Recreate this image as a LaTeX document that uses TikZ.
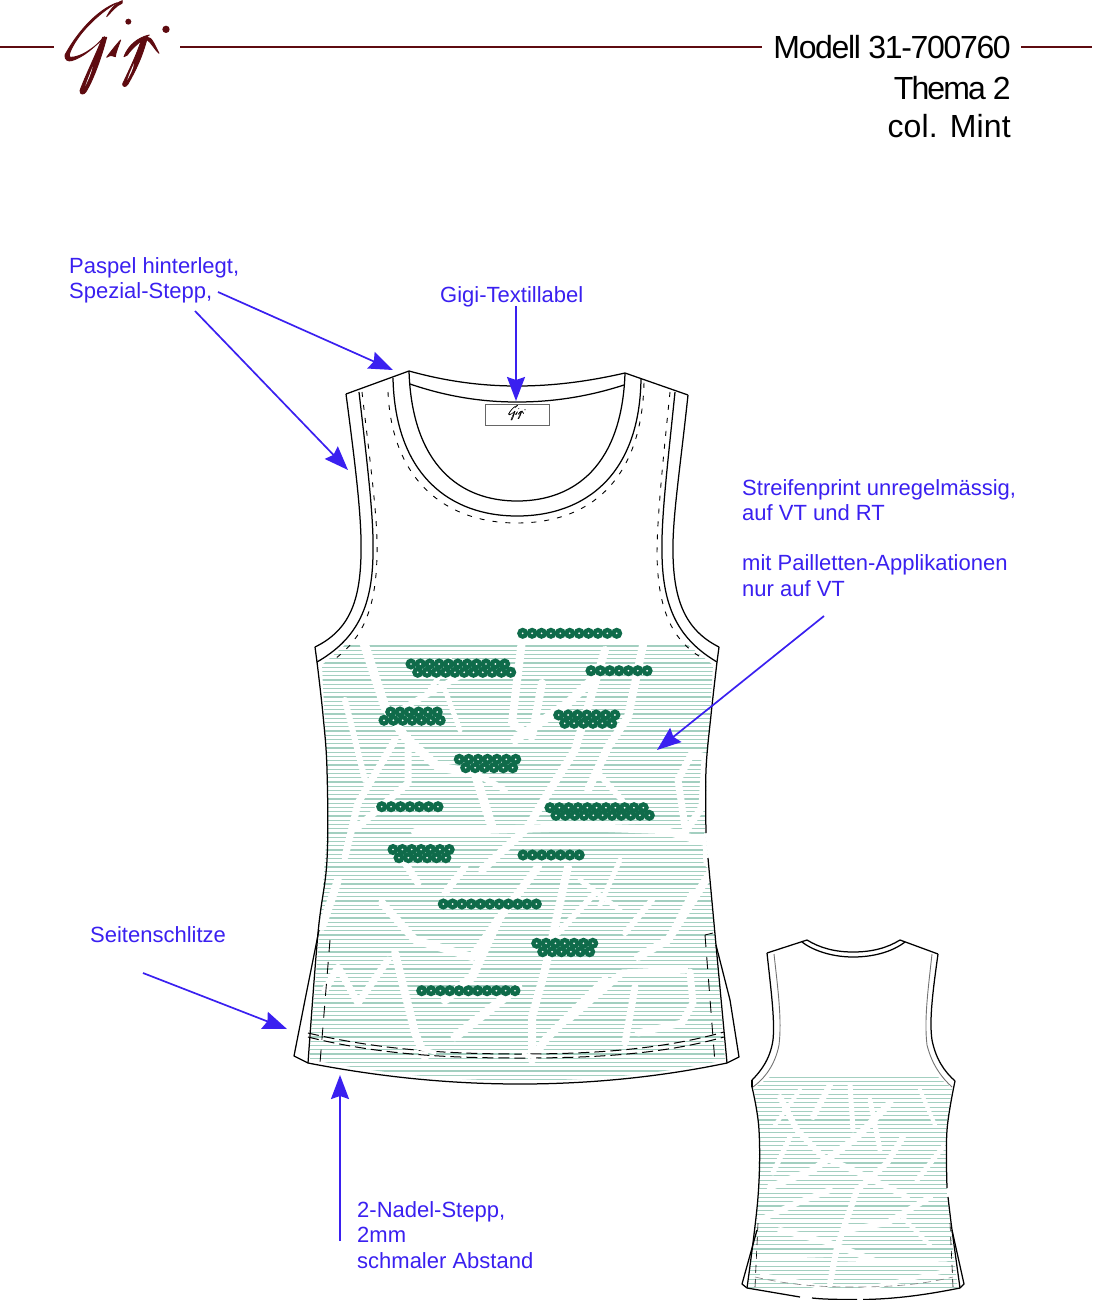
\documentclass[tikz,border=0pt]{standalone}
\usepackage{fontspec}
\usetikzlibrary{arrows.meta}
\setmainfont{Liberation Sans}
\newfontfamily\headfonta[LetterSpace=-4.2]{Liberation Sans}
\newfontfamily\headfontb[LetterSpace=-5.8]{Liberation Sans}
\newfontfamily\headfontc[LetterSpace=0.5]{Liberation Sans}
\definecolor{bluepen}{HTML}{3A20F0}
\definecolor{wine}{HTML}{5E0B10}
\definecolor{stripe}{HTML}{A3CFC0}
\definecolor{sequin}{HTML}{0F6B4A}
\tikzset{
  outline/.style={draw=black,line width=1.25pt,line join=round},
  thinline/.style={draw=black!55,line width=0.9pt},
  stitch/.style={draw=black,line width=0.9pt,dash pattern=on 5pt off 8pt},
  hemstitch/.style={draw=black,line width=1pt,dash pattern=on 11pt off 5pt},
  stripeline/.style={draw=stripe,line width=1.15pt},
  gap/.style={draw=white,line width=#1,line join=round,line cap=round},
  gap/.default=7pt,
  bluearrow/.style={draw=bluepen,line width=1.7pt,-{Stealth[length=24pt,width=18pt,inset=3pt,fill=bluepen]}},
  bluelabel/.style={text=bluepen,font=\fontsize{22}{26}\selectfont,anchor=base west,inner sep=0pt},
  headlabel/.style={text=black,anchor=base east,inner sep=0pt},
  rule/.style={draw=wine,line width=1.8pt}
}
\newcommand{\gigilogo}[4]{%
  \begin{scope}[shift={(#1)},scale=#2,x=1pt,y=-1pt,every path/.append style={line width=#4,line join=round}]
    \filldraw[#3] (140,50) .. controls (150,30) and (165,10) .. (187,2) -- (186,10) .. controls (170,15) and (155,35) .. (140,50) -- cycle;
    \filldraw[#3] (172,8) .. controls (110,30) and (50,100) .. (15,165) .. controls (13,180) and (25,185) .. (35,182) .. controls (70,172) and (105,140) .. (134,110) .. controls (100,148) and (60,172) .. (32,172) .. controls (25,172) and (28,160) .. (33,150) .. controls (60,90) and (130,30) .. (172,8) -- cycle;
    \filldraw[#3] (128,112) .. controls (105,170) and (75,230) .. (60,272) .. controls (60,285) and (72,285) .. (78,275) .. controls (100,240) and (125,170) .. (140,112) -- cycle;
    \fill[white] (98,200) .. controls (90,220) and (82,240) .. (76,258) .. controls (84,242) and (94,220) .. (98,200) -- cycle;
    \filldraw[#3] (140,172) .. controls (150,158) and (168,135) .. (182,120) .. controls (175,140) and (168,155) .. (166,170) .. controls (158,165) and (150,165) .. (140,172) -- cycle;
    \filldraw[#3] (192,170) .. controls (205,135) and (235,112) .. (268,105) .. controls (245,120) and (215,145) .. (202,165) -- cycle;
    \filldraw[#3] (245,118) .. controls (228,170) and (205,215) .. (188,252) .. controls (188,262) and (198,262) .. (204,252) .. controls (225,215) and (248,170) .. (262,112) -- cycle;
    \fill[white] (222,190) .. controls (214,208) and (206,225) .. (202,240) .. controls (210,225) and (220,208) .. (222,190) -- cycle;
    \filldraw[#3] (262,112) .. controls (275,110) and (284,135) .. (297,160) .. controls (285,150) and (272,125) .. (262,120) -- cycle;
    \fill[#3] (205,65) circle (9);
    \fill[#3] (318,88) circle (11);
  \end{scope}}
\newcommand{\sqrow}[4]{% x0, y, count, step
  \foreach \i in {1,...,#3}{
    \pgfmathsetmacro{\sx}{#1+(\i-1)*#4}
    \fill[sequin] (\sx,#2) circle (5.6);
    \fill[white] (\sx,#2) circle (0.95);
  }}
\begin{document}
\begin{tikzpicture}[x=1pt,y=-1pt]
\useasboundingbox (0,0) rectangle (1092,1300);
% header
\draw[rule] (0,47) -- (54,47);
\draw[rule] (180,47) -- (762,47);
\draw[rule] (1021,47) -- (1092,47);
\gigilogo{60,0}{0.3333}{wine}{0.9pt}
\node[headlabel,font=\fontsize{32}{36}\headfonta] (hmodel) at (1011,59) {Modell 31-700760};
\node[headlabel,font=\fontsize{32}{36}\headfontb] (hthema) at (1011,100) {Thema 2};
\node[headlabel,font=\fontsize{32}{36}\headfontc] (hcol) at (1011,138) {col. Mint};

% ---------- front stripes
\begin{scope}
  \clip (345,645) -- (688,645) -- (713,665) -- (707,770) -- (705,830) -- (712,900) -- (725,1060)
     .. controls (660,1074) and (600,1080) .. (520,1081) .. controls (440,1080) and (370,1072) .. (309,1059)
     -- (322,900) -- (327,830) -- (327,770) -- (322,665) -- cycle;
  \foreach \k in {0,...,103}{
    \draw[stripeline] (310,646+\k*4.25) -- (730,646+\k*4.25);
  }
  % irregular white bands
  \draw[gap=9pt] (363,640) -- (385,707) -- (405,737) -- (438,767) -- (475,773) -- (492,827);
  \draw[gap=6pt] (465,673) -- (405,707);
  \draw[gap=5pt] (450,660) -- (430,690);
  \draw[gap=8pt] (522,640) -- (512,723) -- (532,737) -- (542,683);
  \draw[gap=9pt] (592,680) -- (568,703) -- (515,740);
  \draw[gap=8pt] (643,645) -- (628,717) -- (608,747) -- (588,790);
  \draw[gap=8pt] (605,650) -- (575,750) -- (548,793) -- (528,827) -- (482,870);
  \draw[gap=7pt] (395,740) -- (358,803) -- (345,857);
  \draw[gap=7pt] (408,737) -- (408,783) -- (358,827);
  \draw[gap=6pt] (598,773) -- (622,800);
  \draw[gap=6pt] (475,773) -- (505,790);
  \draw[gap=5pt] (445,690) -- (460,730);
  \draw[gap=6pt] (345,700) -- (365,780);
  \draw[gap=7pt] (685,827) -- (678,780) -- (692,753) -- (705,757) -- (702,807) -- (682,837);
  \draw[gap=8pt] (415,832) -- (582,827) -- (662,830) -- (705,842);
  \draw[gap=8pt] (382,903) -- (415,940) -- (472,957) -- (498,920) -- (538,867);
  \draw[gap=9pt] (498,920) -- (472,977) -- (445,1000);
  \draw[gap=8pt] (395,953) -- (415,1033) -- (425,1057);
  \draw[gap=7pt] (388,960) -- (358,1003) -- (338,967) -- (325,990);
  \draw[gap=7pt] (405,863) -- (418,883);
  \draw[gap=7pt] (465,867) -- (445,893);
  \draw[gap=9pt] (518,987) -- (455,1037);
  \draw[gap=8pt] (605,980) -- (545,1040) -- (532,1060) -- (532,1017) -- (545,970) -- (568,867);
  \draw[gap=6pt] (595,893) -- (558,933);
  \draw[gap=7pt] (685,970) -- (622,973) -- (568,1020);
  \draw[gap=7pt] (690,972) -- (693,1003) -- (682,1023) -- (638,1033);
  \draw[gap=7pt] (635,987) -- (625,1043);
  \draw[gap=8pt] (712,870) -- (668,940) -- (638,957);
  \draw[gap=6pt] (652,900) -- (625,933);
  \draw[gap=6pt] (692,893) -- (675,927);
  \draw[gap=8pt] (338,880) -- (322,927);
  \draw[gap=5pt] (620,860) -- (600,905);
  \draw[gap=5pt] (580,880) -- (620,910);
  \draw[gap=18pt] (712,838) -- (712,860);
\end{scope}

% ---------- front stitching
\draw[stitch] (362,392) .. controls (371,470) and (378,520) .. (377,555) .. controls (376,610) and (362,640) .. (332,661);
\draw[stitch] (388,392) .. controls (392,480) and (445,523) .. (517,523) .. controls (590,523) and (642,480) .. (644,382);
\draw[stitch] (670,392) .. controls (662,470) and (657,520) .. (657,555) .. controls (658,610) and (672,640) .. (702,658);
\draw[hemstitch] (308,1033) .. controls (380,1050) and (450,1054) .. (520,1054) .. controls (590,1054) and (660,1050) .. (724,1032);
\draw[hemstitch] (308,1037) .. controls (380,1055) and (450,1058) .. (520,1058) .. controls (590,1058) and (660,1055) .. (724,1037);
\draw[gap=4pt,line cap=butt] (416,1047) -- (436,1053);
\draw[gap=4pt,line cap=butt] (522,1054) -- (536,1058);
\draw[stitch,dash pattern=on 12pt off 10pt] (330,940) -- (320,1063);
\draw[stitch,dash pattern=on 12pt off 10pt] (705,935) -- (715,1063);
\draw[line width=0.8pt] (705,935) -- (713,933);

% ---------- front outline
\draw[outline] (346,394) -- (409,371);
\draw[outline] (625,373) -- (688,395);
\draw[outline] (409,371) .. controls (445,381) and (480,386) .. (517,386) .. controls (555,386) and (590,381) .. (625,373);
\draw[outline] (410,384) .. controls (445,396) and (480,402) .. (517,402) .. controls (555,402) and (590,396) .. (624,385);
\draw[outline] (409,371) .. controls (412,465) and (460,501) .. (517,501) .. controls (575,501) and (622,465) .. (625,373);
\draw[outline] (393,378) .. controls (395,475) and (450,516) .. (517,516) .. controls (585,516) and (640,475) .. (641,378);
\draw[outline] (346,394) .. controls (356,470) and (362,520) .. (361,555) .. controls (360,600) and (350,630) .. (315,647);
\draw[outline] (359,392) .. controls (368,470) and (374,520) .. (373,555) .. controls (372,610) and (355,640) .. (317,662);
\draw[outline] (688,395) .. controls (680,470) and (672,520) .. (673,555) .. controls (674,600) and (685,630) .. (719,647);
\draw[outline] (675,392) .. controls (667,470) and (661,520) .. (662,555) .. controls (663,610) and (680,640) .. (717,662);
\draw[outline] (315,647) -- (317,662);
\draw[outline] (719,647) -- (717,662);
\draw[outline] plot[smooth,tension=0.6] coordinates {(317,662) (323,715) (327,770) (327,860) (318,933) (308,1063)};
\draw[outline] plot[smooth,tension=0.6] coordinates {(717,662) (711,715) (706,770) (706,833)};
\draw[outline] plot[smooth,tension=0.6] coordinates {(708,858) (710,880) (716,945) (727,1063)};
\draw[outline] (319,930) -- (305,1000) -- (294,1056) -- (308,1063);
\draw[outline] (716,945) -- (730,1000) -- (739,1057) -- (727,1063);
\draw[outline] (308,1063) .. controls (380,1077) and (450,1084) .. (520,1084) .. controls (590,1084) and (660,1077) .. (727,1063);

% neck label
\node[draw=black!60,line width=0.8pt,minimum width=64pt,minimum height=21pt,inner sep=0pt] (neck) at (517,414.5) {};
\gigilogo{507.5,405}{0.055}{black}{0.25pt}

% ---------- sequins
\sqrow{522.7}{633.3}{11}{9.4}
\sqrow{411}{664}{11}{9.37}
\sqrow{417.7}{672.3}{11}{9.3}
\sqrow{591}{670.7}{7}{9.35}
\sqrow{390.7}{712}{6}{9.3}
\sqrow{384}{720.3}{7}{9.37}
\sqrow{558.7}{715}{7}{9.37}
\sqrow{564.7}{723.3}{6}{9.4}
\sqrow{459.3}{759.3}{7}{9.4}
\sqrow{465.7}{767.7}{6}{9.4}
\sqrow{381.7}{806.7}{7}{9.38}
\sqrow{550}{807.7}{11}{9.33}
\sqrow{556}{815.3}{11}{9.33}
\sqrow{393}{849.5}{7}{9.37}
\sqrow{399}{857.7}{6}{9.37}
\sqrow{523}{855}{7}{9.37}
\sqrow{443.3}{904}{11}{9.3}
\sqrow{536.7}{943.3}{7}{9.35}
\sqrow{542.7}{951.7}{6}{9.4}
\sqrow{421.7}{990.7}{11}{9.33}

% ---------- back stripes
\begin{scope}
  \clip (770,1077) -- (938,1077) -- (952,1088) -- (946,1130) -- (947,1197) -- (958,1290) -- (748,1290) -- (758,1197) -- (759,1130) -- (754,1088) -- cycle;
  \foreach \k in {0,...,50}{
    \draw[stripeline] (745,1077+\k*4.3) -- (960,1077+\k*4.3);
  }
  \draw[gap=6pt] (780,1097) -- (797,1130) -- (823,1157) -- (853,1170) -- (907,1197);
  \draw[gap=7pt] (890,1103) -- (857,1137) -- (813,1170) -- (770,1187);
  \draw[gap=6pt] (830,1085) -- (813,1117);
  \draw[gap=6pt] (903,1137) -- (887,1163) -- (857,1190) -- (837,1247) -- (830,1283);
  \draw[gap=6pt] (780,1230) -- (830,1243) -- (880,1263);
  \draw[gap=6pt] (930,1197) -- (887,1223) -- (847,1230);
  \draw[gap=5pt] (943,1147) -- (917,1180);
  \draw[gap=5pt] (790,1137) -- (773,1173);
  \draw[gap=6pt] (760,1220) -- (797,1203) -- (830,1190);
  \draw[gap=3pt] (750,1257) -- (947,1263);
  \draw[gap=5pt] (850,1085) -- (853,1130);
  \draw[gap=5pt] (870,1100) -- (880,1150);
  \draw[gap=4pt] (762,1275) -- (800,1282) -- (830,1290);
  \draw[gap=4pt] (860,1290) -- (950,1270);
  \draw[gap=4pt] (800,1090) -- (775,1125);
  \draw[gap=4pt] (920,1090) -- (935,1125);
  \draw[gap=4pt] (900,1215) -- (930,1245);
\end{scope}
\draw[stitch,line width=0.6pt,dash pattern=on 8pt off 6pt] (758,1223) -- (755,1287);
\draw[stitch,line width=0.6pt,dash pattern=on 8pt off 6pt] (950,1223) -- (953,1287);
\draw[stitch,line width=0.6pt,draw=black!50,dash pattern=on 8pt off 5pt] (755,1277) .. controls (790,1285) and (820,1287) .. (853,1287) .. controls (890,1287) and (920,1285) .. (953,1277);

% ---------- back outline
\draw[outline] (767,953) -- (807,940);
\draw[outline] (900,940) -- (938,954);
\draw[outline] (807,940) .. controls (820,948) and (835,952) .. (853,952) .. controls (872,952) and (887,948) .. (900,940);
\draw[outline] (802,942) .. controls (815,952) and (835,957) .. (853,957) .. controls (873,957) and (892,952) .. (905,942);
\draw[thinline] (774,954) .. controls (778,990) and (782,1020) .. (779,1045) .. controls (775,1065) and (765,1078) .. (753,1087);
\draw[thinline] (932,954) .. controls (928,990) and (924,1020) .. (927,1045) .. controls (932,1065) and (942,1078) .. (952,1087);
\draw[outline] (767,953) .. controls (771,990) and (775,1020) .. (773,1040) .. controls (770,1060) and (760,1072) .. (752,1080);
\draw[outline] (938,954) .. controls (933,990) and (929,1020) .. (932,1040) .. controls (936,1060) and (945,1072) .. (955,1081);
\draw[outline] (752,1080) -- (752,1087);
\draw[outline] plot[smooth,tension=0.6] coordinates {(752,1087) (759,1130) (758,1197) (747,1288)};
\draw[outline] plot[smooth,tension=0.6] coordinates {(955,1081) (947,1130) (947,1188)};
\draw[outline] plot[smooth,tension=0.6] coordinates {(948,1197) (952,1230) (960,1288)};
\draw[outline] (757,1230) -- (742,1284) -- (747,1288);
\draw[outline] (952,1230) -- (964,1284) -- (960,1288);
\draw[outline] (747,1288) -- (800,1297);
\draw[outline] (812,1298) .. controls (825,1299.5) and (845,1299.5) .. (857,1299.5);
\draw[outline] (863,1299.5) .. controls (895,1299) and (925,1295) .. (960,1288);

% ---------- labels
\node[bluelabel] (l1a) at (69,273) {Paspel hinterlegt,};
\node[bluelabel] (l1b) at (69,298) {Spezial-Stepp,};
\node[bluelabel] (l2) at (440,302) {Gigi-Textillabel};
\node[bluelabel] (l3a) at (742,495) {Streifenprint unregelmässig,};
\node[bluelabel] (l3b) at (742,520) {auf VT und RT};
\node[bluelabel] (l3c) at (742,570) {mit Pailletten-Applikationen};
\node[bluelabel] (l3d) at (742,596) {nur auf VT};
\node[bluelabel] (l4) at (90,942) {Seitenschlitze};
\node[bluelabel] (l5a) at (357,1217) {2-Nadel-Stepp,};
\node[bluelabel] (l5b) at (357,1242) {2mm};
\node[bluelabel] (l5c) at (357,1268) {schmaler Abstand};

% ---------- arrows
\coordinate (a1s) at (218,292); \coordinate (a1e) at (393,370);
\coordinate (a2s) at (195,311); \coordinate (a2e) at (348,470);
\coordinate (a3s) at (516,306); \coordinate (a3e) at (516,401);
\coordinate (a4s) at (824,616); \coordinate (a4e) at (657,750);
\coordinate (a5s) at (143,973); \coordinate (a5e) at (287,1029);
\coordinate (a6s) at (340,1241); \coordinate (a6e) at (340,1075);
\draw[bluearrow] (a1s) -- (a1e);
\draw[bluearrow] (a2s) -- (a2e);
\draw[bluearrow] (a3s) -- (a3e);
\draw[bluearrow] (a4s) -- (a4e);
\draw[bluearrow] (a5s) -- (a5e);
\draw[bluearrow] (a6s) -- (a6e);
\end{tikzpicture}
\end{document}
